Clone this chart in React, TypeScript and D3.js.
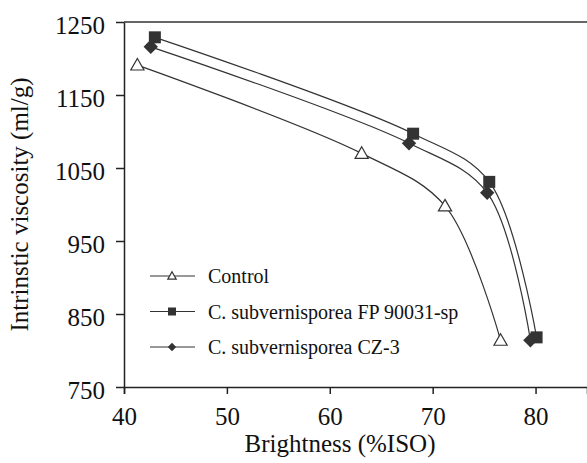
import React, { useEffect, useRef } from "react";
import * as d3 from "d3";

const xTicks = [40, 50, 60, 70, 80];
const yTicks = [750, 850, 950, 1050, 1150, 1250];

const seriesNames = ["Control", "C. subvernisporea FP 90031-sp", "C. subvernisporea CZ-3"];
const seriesMarkers = ["triangle", "square", "diamond"];

const controlX = [41.3, 63.1, 71.2, 76.6];
const controlY = [1191, 1070, 998, 814];
const fpX = [43.0, 68.1, 75.5, 80.1];
const fpY = [1229, 1097, 1031, 818];
const czX = [42.6, 67.7, 75.3, 79.5];
const czY = [1216, 1084, 1016, 814];

const App = () => {
  const ref = useRef<SVGSVGElement>(null);

  useEffect(() => {
    draw();
  });

  const draw = () => {
    const svg = d3.select(ref.current);
    svg.selectAll("*").remove();

    const width = 587;
    const height = 463;
    const margin = { top: 22, right: 0, bottom: 76, left: 124 };
    const font = "Liberation Serif";
    const ink = "#222";

    const x = d3.scaleLinear().domain([40, 85]).range([margin.left, width - margin.right]);
    const y = d3.scaleLinear().domain([750, 1250]).range([height - margin.bottom, margin.top]);

    svg.append("rect").attr("width", width).attr("height", height).attr("fill", "#fff");

    // top frame line
    svg
      .append("line")
      .attr("x1", margin.left)
      .attr("x2", width)
      .attr("y1", y(1250))
      .attr("y2", y(1250))
      .attr("stroke", "#333")
      .attr("stroke-width", 1.5);

    const xAxis = svg
      .append("g")
      .attr("transform", `translate(0,${y(750)})`)
      .call(d3.axisBottom(x).tickValues(xTicks).tickSize(7).tickPadding(13).tickFormat(d3.format("d")));
    xAxis.select(".domain").attr("stroke", ink).attr("stroke-width", 1.5);
    xAxis.selectAll(".tick line").attr("stroke", ink).attr("stroke-width", 1.5);
    xAxis
      .selectAll("text")
      .style("font-family", font)
      .style("font-size", "25px")
      .attr("fill", "#111");

    const yAxis = svg
      .append("g")
      .attr("transform", `translate(${margin.left},0)`)
      .call(
        d3.axisLeft(y).tickValues(yTicks).tickSize(8).tickPadding(11).tickSizeOuter(0).tickFormat(d3.format("d"))
      );
    yAxis.select(".domain").attr("stroke", ink).attr("stroke-width", 1.5);
    yAxis.selectAll(".tick line").attr("stroke", ink).attr("stroke-width", 1.5);
    yAxis
      .selectAll("text")
      .attr("dy", "0.45em")
      .style("font-family", font)
      .style("font-size", "25px")
      .attr("fill", "#111");

    svg
      .append("text")
      .attr("x", 340)
      .attr("y", 452)
      .attr("text-anchor", "middle")
      .style("font-family", font)
      .style("font-size", "25px")
      .attr("fill", "#111")
      .text("Brightness (%ISO)");

    svg
      .append("text")
      .attr("transform", `translate(28,${(margin.top + y(750)) / 2}) rotate(-90)`)
      .attr("text-anchor", "middle")
      .style("font-family", font)
      .style("font-size", "25px")
      .attr("fill", "#111")
      .text("Intrinstic viscosity (ml/g)");

    const series = [
      { xs: controlX, ys: controlY },
      { xs: fpX, ys: fpY },
      { xs: czX, ys: czY },
    ];

    const line = d3
      .line<[number, number]>()
      .x((d) => x(d[0]))
      .y((d) => y(d[1]))
      .curve(d3.curveCatmullRom.alpha(0.5));

    const marker = (g: any, kind: string, cx: number, cy: number, s: number) => {
      if (kind === "triangle") {
        g.append("path")
          .attr("d", `M${cx},${cy - s * 0.6}L${cx + s * 0.6},${cy + s * 0.45}L${cx - s * 0.6},${cy + s * 0.45}Z`)
          .attr("fill", "#fff")
          .attr("stroke", "#333")
          .attr("stroke-width", 1.2);
      } else if (kind === "square") {
        g.append("rect")
          .attr("x", cx - s / 2)
          .attr("y", cy - s / 2)
          .attr("width", s)
          .attr("height", s)
          .attr("fill", "#333");
      } else {
        g.append("path")
          .attr("d", `M${cx},${cy - s * 0.6}L${cx + s * 0.6},${cy}L${cx},${cy + s * 0.6}L${cx - s * 0.6},${cy}Z`)
          .attr("fill", "#333");
      }
    };

    const plot = svg.append("g");
    series.forEach((s) => {
      const pts: [number, number][] = s.xs.map((v, j) => [v, s.ys[j]]);
      plot
        .append("path")
        .attr("d", line(pts))
        .attr("fill", "none")
        .attr("stroke", "#333")
        .attr("stroke-width", 1.2);
    });
    [1, 2, 0].forEach((i) => {
      const s = series[i];
      s.xs.forEach((v, j) => marker(plot, seriesMarkers[i], x(v), y(s.ys[j]), i === 0 ? 11 : 12));
    });

    // legend
    const legend = svg.append("g");
    seriesNames.forEach((name, i) => {
      const ly = 276 + i * 35.5;
      legend
        .append("line")
        .attr("x1", 150)
        .attr("x2", 195)
        .attr("y1", ly)
        .attr("y2", ly)
        .attr("stroke", "#333")
        .attr("stroke-width", 1.2);
      marker(legend, seriesMarkers[i], 172, ly, i === 0 ? 7 : i === 1 ? 8 : 7);
      legend
        .append("text")
        .attr("x", 208)
        .attr("y", ly + 7)
        .style("font-family", font)
        .style("font-size", "20px")
        .attr("fill", "#111")
        .text(name);
    });
  };

  return (
    <svg
      ref={ref}
      width={587}
      height={463}
      style={{ position: "absolute", left: 0, top: 0 }}
    />
  );
};

export default App;
